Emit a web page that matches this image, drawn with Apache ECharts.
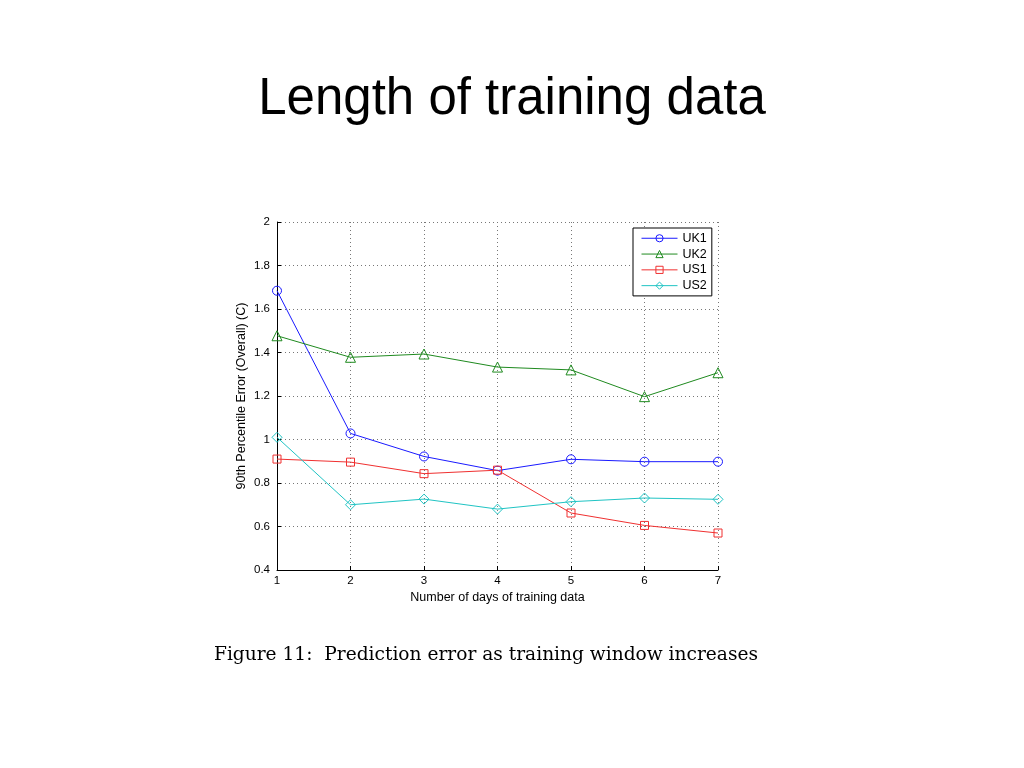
<!DOCTYPE html>
<html><head><meta charset="utf-8">
<script src="https://cdn.jsdelivr.net/npm/echarts@6/dist/echarts.min.js"></script>
<style>html,body{margin:0;padding:0;background:#fff}#c{width:1024px;height:768px}</style>
</head><body><div id="c"></div>
<script>
const days = [1, 2, 3, 4, 5, 6, 7];
const uk1 = [1.684, 1.028, 0.922, 0.857, 0.909, 0.898, 0.898];
const uk2 = [1.477, 1.378, 1.393, 1.333, 1.320, 1.197, 1.307];
const us1 = [0.910, 0.896, 0.843, 0.859, 0.662, 0.605, 0.570];
const us2 = [1.010, 0.700, 0.726, 0.680, 0.714, 0.731, 0.725];
const seriesNames = ['UK1', 'UK2', 'US1', 'US2'];
const titleText = 'Length of training data';
const captionText = 'Figure 11:  Prediction error as training window increases';
const xName = 'Number of days of training data';
const yName = '90th Percentile Error (Overall) (C)';

const colors = ['#1a1aff', '#1f8a1f', '#f03030', '#20c4c4'];
const symbols = ['circle', 'triangle', 'rect', 'diamond'];
const sizes = [9, 10, 8, 10];
const datasets = [uk1, uk2, us1, us2];

const chart = echarts.init(document.getElementById('c'));
chart.setOption({
  animation: false,
  backgroundColor: '#fff',
  title: {
    text: titleText, left: 'center', top: 69,
    textStyle: {fontFamily: 'Liberation Sans', fontSize: 51, fontWeight: 'normal', color: '#000'}
  },
  graphic: [{
    type: 'text', left: 214, top: 646,
    style: {text: captionText, font: '18.6px "DejaVu Serif"', fill: '#000'}
  }],
  grid: {left: 277, right: 306, top: 222, bottom: 198, containLabel: false},
  legend: {
    orient: 'vertical', left: 633, top: 228,
    data: seriesNames,
    backgroundColor: '#fff', borderColor: '#000', borderWidth: 1,
    padding: [3, 5, 3, 8], itemGap: 1.3, itemWidth: 36, itemHeight: 9,
    lineStyle: {width: 1},
    itemStyle: {borderWidth: 1},
    textStyle: {fontFamily: 'Liberation Sans', fontSize: 12.5, color: '#000', lineHeight: 14.5}
  },
  xAxis: {
    type: 'value', min: 1, max: 7, interval: 1,
    name: xName, nameLocation: 'middle', nameGap: 21,
    nameTextStyle: {fontFamily: 'Liberation Sans', fontSize: 12.5, color: '#000'},
    axisLine: {show: true, onZero: false, lineStyle: {color: '#000', width: 1}},
    axisTick: {show: true, inside: true, length: 4, lineStyle: {color: '#000'}},
    axisLabel: {fontFamily: 'Liberation Sans', fontSize: 11.5, color: '#000', margin: 5},
    splitLine: {show: true, lineStyle: {type: [1, 3], color: '#777', width: 1}}
  },
  yAxis: {
    type: 'value', min: 0.4, max: 2, interval: 0.2,
    name: yName, nameLocation: 'middle', nameGap: 29,
    nameTextStyle: {fontFamily: 'Liberation Sans', fontSize: 12.5, color: '#000'},
    axisLine: {show: true, lineStyle: {color: '#000', width: 1}},
    axisTick: {show: true, inside: true, length: 4, lineStyle: {color: '#000'}},
    axisLabel: {fontFamily: 'Liberation Sans', fontSize: 11.5, color: '#000', margin: 7,
      formatter: v => String(+v.toFixed(1))},
    splitLine: {show: true, lineStyle: {type: [1, 3], color: '#777', width: 1}}
  },
  series: datasets.map((d, i) => ({
    name: seriesNames[i], type: 'line',
    data: d.map((v, j) => [days[j], v]),
    symbol: symbols[i], symbolSize: sizes[i], showSymbol: true,
    lineStyle: {color: colors[i], width: 1},
    itemStyle: {color: 'rgba(255,255,255,0)', borderColor: colors[i], borderWidth: 1},
    z: 2 + i
  }))
});
</script></body></html>
